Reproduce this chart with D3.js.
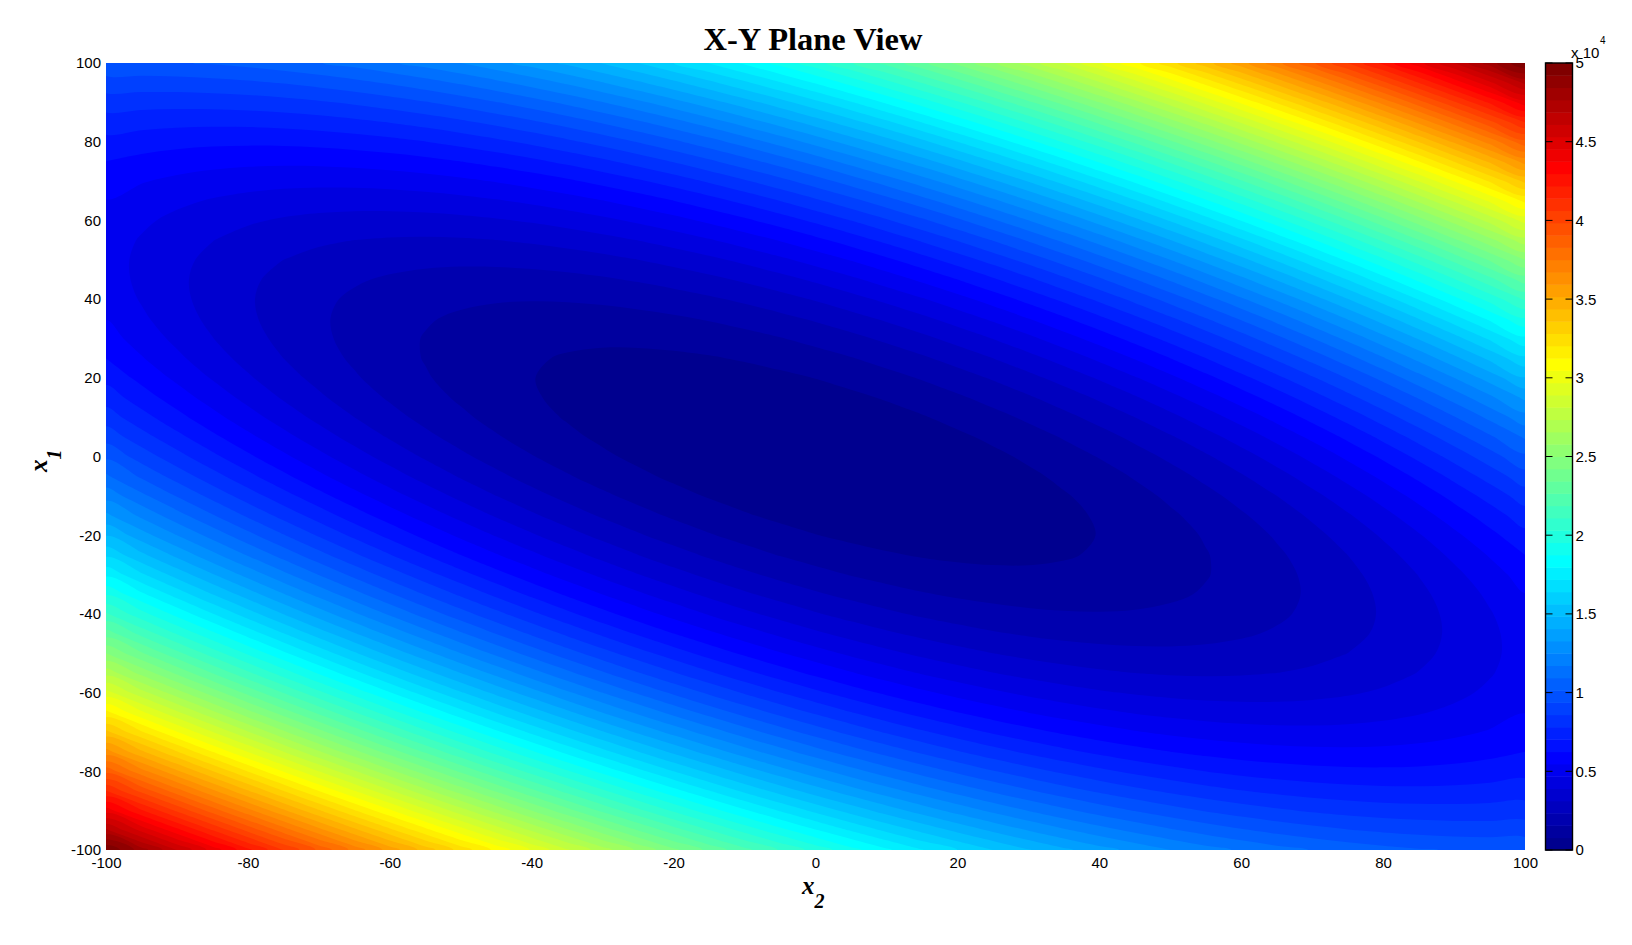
<!DOCTYPE html>
<html>
<head>
<meta charset="utf-8">
<script src="https://cdn.jsdelivr.net/npm/d3@7"></script>
<style>
	html, body { margin: 0; background: white; }
	svg { display: block; }
	.tick text, .cb_label { font-family: "Liberation Sans", Arial, sans-serif; font-size: 15px; fill: black; }
	.math { font-family: "Liberation Serif", "Times New Roman", serif; font-style: italic; font-weight: bold; fill: black; }
</style>
</head>
<body>
<div id="chart"></div>
<script>
const x2_ticks = [-100, -80, -60, -40, -20, 0, 20, 40, 60, 80, 100];
const x1_ticks = [-100, -80, -60, -40, -20, 0, 20, 40, 60, 80, 100];
const colorbar_ticks = [0, 5000, 10000, 15000, 20000, 25000, 30000, 35000, 40000, 45000, 50000];
const colorbar_labels = ["0", "0.5", "1", "1.5", "2", "2.5", "3", "3.5", "4", "4.5", "5"];
const nb_levels = 64;
const z_max = 50000;

// surface values, 5 units apart.
// first row is x1 = 100 (top), each row goes from x2 = -100 to x2 = 100
const z_rows = [
	[10000,10025,10100,10225,10400,10625,10900,11225,11600,12025,12500,13025,13600,14225,14900,15625,16400,17225,18100,19025,20000,21025,22100,23225,24400,25625,26900,28225,29600,31025,32500,34025,35600,37225,38900,40625,42400,44225,46100,48025,50000],
	[9050,9025,9050,9125,9250,9425,9650,9925,10250,10625,11050,11525,12050,12625,13250,13925,14650,15425,16250,17125,18050,19025,20050,21125,22250,23425,24650,25925,27250,28625,30050,31525,33050,34625,36250,37925,39650,41425,43250,45125,47050],
	[8200,8125,8100,8125,8200,8325,8500,8725,9000,9325,9700,10125,10600,11125,11700,12325,13000,13725,14500,15325,16200,17125,18100,19125,20200,21325,22500,23725,25000,26325,27700,29125,30600,32125,33700,35325,37000,38725,40500,42325,44200],
	[7450,7325,7250,7225,7250,7325,7450,7625,7850,8125,8450,8825,9250,9725,10250,10825,11450,12125,12850,13625,14450,15325,16250,17225,18250,19325,20450,21625,22850,24125,25450,26825,28250,29725,31250,32825,34450,36125,37850,39625,41450],
	[6800,6625,6500,6425,6400,6425,6500,6625,6800,7025,7300,7625,8000,8425,8900,9425,10000,10625,11300,12025,12800,13625,14500,15425,16400,17425,18500,19625,20800,22025,23300,24625,26000,27425,28900,30425,32000,33625,35300,37025,38800],
	[6250,6025,5850,5725,5650,5625,5650,5725,5850,6025,6250,6525,6850,7225,7650,8125,8650,9225,9850,10525,11250,12025,12850,13725,14650,15625,16650,17725,18850,20025,21250,22525,23850,25225,26650,28125,29650,31225,32850,34525,36250],
	[5800,5525,5300,5125,5000,4925,4900,4925,5000,5125,5300,5525,5800,6125,6500,6925,7400,7925,8500,9125,9800,10525,11300,12125,13000,13925,14900,15925,17000,18125,19300,20525,21800,23125,24500,25925,27400,28925,30500,32125,33800],
	[5450,5125,4850,4625,4450,4325,4250,4225,4250,4325,4450,4625,4850,5125,5450,5825,6250,6725,7250,7825,8450,9125,9850,10625,11450,12325,13250,14225,15250,16325,17450,18625,19850,21125,22450,23825,25250,26725,28250,29825,31450],
	[5200,4825,4500,4225,4000,3825,3700,3625,3600,3625,3700,3825,4000,4225,4500,4825,5200,5625,6100,6625,7200,7825,8500,9225,10000,10825,11700,12625,13600,14625,15700,16825,18000,19225,20500,21825,23200,24625,26100,27625,29200],
	[5050,4625,4250,3925,3650,3425,3250,3125,3050,3025,3050,3125,3250,3425,3650,3925,4250,4625,5050,5525,6050,6625,7250,7925,8650,9425,10250,11125,12050,13025,14050,15125,16250,17425,18650,19925,21250,22625,24050,25525,27050],
	[5000,4525,4100,3725,3400,3125,2900,2725,2600,2525,2500,2525,2600,2725,2900,3125,3400,3725,4100,4525,5000,5525,6100,6725,7400,8125,8900,9725,10600,11525,12500,13525,14600,15725,16900,18125,19400,20725,22100,23525,25000],
	[5050,4525,4050,3625,3250,2925,2650,2425,2250,2125,2050,2025,2050,2125,2250,2425,2650,2925,3250,3625,4050,4525,5050,5625,6250,6925,7650,8425,9250,10125,11050,12025,13050,14125,15250,16425,17650,18925,20250,21625,23050],
	[5200,4625,4100,3625,3200,2825,2500,2225,2000,1825,1700,1625,1600,1625,1700,1825,2000,2225,2500,2825,3200,3625,4100,4625,5200,5825,6500,7225,8000,8825,9700,10625,11600,12625,13700,14825,16000,17225,18500,19825,21200],
	[5450,4825,4250,3725,3250,2825,2450,2125,1850,1625,1450,1325,1250,1225,1250,1325,1450,1625,1850,2125,2450,2825,3250,3725,4250,4825,5450,6125,6850,7625,8450,9325,10250,11225,12250,13325,14450,15625,16850,18125,19450],
	[5800,5125,4500,3925,3400,2925,2500,2125,1800,1525,1300,1125,1000,925,900,925,1000,1125,1300,1525,1800,2125,2500,2925,3400,3925,4500,5125,5800,6525,7300,8125,9000,9925,10900,11925,13000,14125,15300,16525,17800],
	[6250,5525,4850,4225,3650,3125,2650,2225,1850,1525,1250,1025,850,725,650,625,650,725,850,1025,1250,1525,1850,2225,2650,3125,3650,4225,4850,5525,6250,7025,7850,8725,9650,10625,11650,12725,13850,15025,16250],
	[6800,6025,5300,4625,4000,3425,2900,2425,2000,1625,1300,1025,800,625,500,425,400,425,500,625,800,1025,1300,1625,2000,2425,2900,3425,4000,4625,5300,6025,6800,7625,8500,9425,10400,11425,12500,13625,14800],
	[7450,6625,5850,5125,4450,3825,3250,2725,2250,1825,1450,1125,850,625,450,325,250,225,250,325,450,625,850,1125,1450,1825,2250,2725,3250,3825,4450,5125,5850,6625,7450,8325,9250,10225,11250,12325,13450],
	[8200,7325,6500,5725,5000,4325,3700,3125,2600,2125,1700,1325,1000,725,500,325,200,125,100,125,200,325,500,725,1000,1325,1700,2125,2600,3125,3700,4325,5000,5725,6500,7325,8200,9125,10100,11125,12200],
	[9050,8125,7250,6425,5650,4925,4250,3625,3050,2525,2050,1625,1250,925,650,425,250,125,50,25,50,125,250,425,650,925,1250,1625,2050,2525,3050,3625,4250,4925,5650,6425,7250,8125,9050,10025,11050],
	[10000,9025,8100,7225,6400,5625,4900,4225,3600,3025,2500,2025,1600,1225,900,625,400,225,100,25,0,25,100,225,400,625,900,1225,1600,2025,2500,3025,3600,4225,4900,5625,6400,7225,8100,9025,10000],
	[11050,10025,9050,8125,7250,6425,5650,4925,4250,3625,3050,2525,2050,1625,1250,925,650,425,250,125,50,25,50,125,250,425,650,925,1250,1625,2050,2525,3050,3625,4250,4925,5650,6425,7250,8125,9050],
	[12200,11125,10100,9125,8200,7325,6500,5725,5000,4325,3700,3125,2600,2125,1700,1325,1000,725,500,325,200,125,100,125,200,325,500,725,1000,1325,1700,2125,2600,3125,3700,4325,5000,5725,6500,7325,8200],
	[13450,12325,11250,10225,9250,8325,7450,6625,5850,5125,4450,3825,3250,2725,2250,1825,1450,1125,850,625,450,325,250,225,250,325,450,625,850,1125,1450,1825,2250,2725,3250,3825,4450,5125,5850,6625,7450],
	[14800,13625,12500,11425,10400,9425,8500,7625,6800,6025,5300,4625,4000,3425,2900,2425,2000,1625,1300,1025,800,625,500,425,400,425,500,625,800,1025,1300,1625,2000,2425,2900,3425,4000,4625,5300,6025,6800],
	[16250,15025,13850,12725,11650,10625,9650,8725,7850,7025,6250,5525,4850,4225,3650,3125,2650,2225,1850,1525,1250,1025,850,725,650,625,650,725,850,1025,1250,1525,1850,2225,2650,3125,3650,4225,4850,5525,6250],
	[17800,16525,15300,14125,13000,11925,10900,9925,9000,8125,7300,6525,5800,5125,4500,3925,3400,2925,2500,2125,1800,1525,1300,1125,1000,925,900,925,1000,1125,1300,1525,1800,2125,2500,2925,3400,3925,4500,5125,5800],
	[19450,18125,16850,15625,14450,13325,12250,11225,10250,9325,8450,7625,6850,6125,5450,4825,4250,3725,3250,2825,2450,2125,1850,1625,1450,1325,1250,1225,1250,1325,1450,1625,1850,2125,2450,2825,3250,3725,4250,4825,5450],
	[21200,19825,18500,17225,16000,14825,13700,12625,11600,10625,9700,8825,8000,7225,6500,5825,5200,4625,4100,3625,3200,2825,2500,2225,2000,1825,1700,1625,1600,1625,1700,1825,2000,2225,2500,2825,3200,3625,4100,4625,5200],
	[23050,21625,20250,18925,17650,16425,15250,14125,13050,12025,11050,10125,9250,8425,7650,6925,6250,5625,5050,4525,4050,3625,3250,2925,2650,2425,2250,2125,2050,2025,2050,2125,2250,2425,2650,2925,3250,3625,4050,4525,5050],
	[25000,23525,22100,20725,19400,18125,16900,15725,14600,13525,12500,11525,10600,9725,8900,8125,7400,6725,6100,5525,5000,4525,4100,3725,3400,3125,2900,2725,2600,2525,2500,2525,2600,2725,2900,3125,3400,3725,4100,4525,5000],
	[27050,25525,24050,22625,21250,19925,18650,17425,16250,15125,14050,13025,12050,11125,10250,9425,8650,7925,7250,6625,6050,5525,5050,4625,4250,3925,3650,3425,3250,3125,3050,3025,3050,3125,3250,3425,3650,3925,4250,4625,5050],
	[29200,27625,26100,24625,23200,21825,20500,19225,18000,16825,15700,14625,13600,12625,11700,10825,10000,9225,8500,7825,7200,6625,6100,5625,5200,4825,4500,4225,4000,3825,3700,3625,3600,3625,3700,3825,4000,4225,4500,4825,5200],
	[31450,29825,28250,26725,25250,23825,22450,21125,19850,18625,17450,16325,15250,14225,13250,12325,11450,10625,9850,9125,8450,7825,7250,6725,6250,5825,5450,5125,4850,4625,4450,4325,4250,4225,4250,4325,4450,4625,4850,5125,5450],
	[33800,32125,30500,28925,27400,25925,24500,23125,21800,20525,19300,18125,17000,15925,14900,13925,13000,12125,11300,10525,9800,9125,8500,7925,7400,6925,6500,6125,5800,5525,5300,5125,5000,4925,4900,4925,5000,5125,5300,5525,5800],
	[36250,34525,32850,31225,29650,28125,26650,25225,23850,22525,21250,20025,18850,17725,16650,15625,14650,13725,12850,12025,11250,10525,9850,9225,8650,8125,7650,7225,6850,6525,6250,6025,5850,5725,5650,5625,5650,5725,5850,6025,6250],
	[38800,37025,35300,33625,32000,30425,28900,27425,26000,24625,23300,22025,20800,19625,18500,17425,16400,15425,14500,13625,12800,12025,11300,10625,10000,9425,8900,8425,8000,7625,7300,7025,6800,6625,6500,6425,6400,6425,6500,6625,6800],
	[41450,39625,37850,36125,34450,32825,31250,29725,28250,26825,25450,24125,22850,21625,20450,19325,18250,17225,16250,15325,14450,13625,12850,12125,11450,10825,10250,9725,9250,8825,8450,8125,7850,7625,7450,7325,7250,7225,7250,7325,7450],
	[44200,42325,40500,38725,37000,35325,33700,32125,30600,29125,27700,26325,25000,23725,22500,21325,20200,19125,18100,17125,16200,15325,14500,13725,13000,12325,11700,11125,10600,10125,9700,9325,9000,8725,8500,8325,8200,8125,8100,8125,8200],
	[47050,45125,43250,41425,39650,37925,36250,34625,33050,31525,30050,28625,27250,25925,24650,23425,22250,21125,20050,19025,18050,17125,16250,15425,14650,13925,13250,12625,12050,11525,11050,10625,10250,9925,9650,9425,9250,9125,9050,9025,9050],
	[50000,48025,46100,44225,42400,40625,38900,37225,35600,34025,32500,31025,29600,28225,26900,25625,24400,23225,22100,21025,20000,19025,18100,17225,16400,15625,14900,14225,13600,13025,12500,12025,11600,11225,10900,10625,10400,10225,10100,10025,10000]
];

function main_plane(width = 1632, height = 945){
	const margin = ({top: 63, right: 107, bottom: 95, left: 106});
	const cb = ({left: 1545.5, right: 1572.5});
	const nb_cols = z_rows[0].length, nb_rows = z_rows.length;

	// same 64 steps as matlab's jet
	const jet = d3.scaleLinear()
		.domain([0, 7, 23, 39, 55, 63])
		.range(["rgb(0,0,143)", "rgb(0,0,255)", "rgb(0,255,255)", "rgb(255,255,0)", "rgb(255,0,0)", "rgb(128,0,0)"]);

	const svg = d3.select("#chart").append("svg")
		.attr("width", width)
		.attr("height", height);

	const x = d3.scaleLinear().domain([-100, 100]).range([margin.left, width - margin.right]);
	const y = d3.scaleLinear().domain([-100, 100]).range([height - margin.bottom, margin.top]);
	const z = d3.scaleLinear().domain([0, z_max]).range([height - margin.bottom, margin.top]);

	// grid cell centers -> data values
	const col_to_x2 = d3.scaleLinear().domain([0.5, nb_cols - 0.5]).range([-100, 100]);
	const row_to_x1 = d3.scaleLinear().domain([0.5, nb_rows - 0.5]).range([100, -100]);

	// the grid is coarse, a closed curve through the contour points hides the facets
	const ring_line = d3.line()
		.x(p => x(col_to_x2(p[0])))
		.y(p => y(row_to_x1(p[1])))
		.curve(d3.curveCatmullRomClosed.alpha(0.5));
	const contour_path = c => c.coordinates
		.map(poly => poly.map(ring => ring_line(ring.slice(0, -1))).join(""))
		.join("");

	const step = z_max / nb_levels;
	const thresholds = d3.range(1, nb_levels).map(k => k * step);
	const contours = d3.contours().size([nb_cols, nb_rows]).thresholds(thresholds).smooth(true)(z_rows.flat());

	svg.append("clipPath").attr("id", "plane_clip").append("rect")
		.attr("x", x(-100)).attr("y", y(100))
		.attr("width", x(100) - x(-100)).attr("height", y(-100) - y(100));

	const plane = svg.append("g").attr("clip-path", "url(#plane_clip)");
	plane.append("rect")
		.attr("x", x(-100)).attr("y", y(100))
		.attr("width", x(100) - x(-100)).attr("height", y(-100) - y(100))
		.attr("fill", jet(0));
	plane.selectAll("path")
		.data(contours)
		.enter()
		.append("path")
		.attr("d", contour_path)
		.attr("fill", (d, i) => jet(i + 1));

	//creation of the axis
	svg.append("g")
		.attr("transform", `translate(0,${y(-100)})`)
		.call(d3.axisBottom(x).tickValues(x2_ticks).tickSize(0).tickPadding(7).tickFormat(String))
		.call(g => g.select(".domain").remove());
	svg.append("g")
		.attr("transform", `translate(${x(-100)},0)`)
		.call(d3.axisLeft(y).tickValues(x1_ticks).tickSize(0).tickPadding(5).tickFormat(String))
		.call(g => g.select(".domain").remove());

	// colorbar
	const bar = svg.append("g");
	bar.selectAll("rect")
		.data(d3.range(nb_levels))
		.enter()
		.append("rect")
		.attr("x", cb.left)
		.attr("width", cb.right - cb.left)
		.attr("y", d => z((d + 1) * step))
		.attr("height", d => z(d * step) - z((d + 1) * step) + 0.5)
		.attr("fill", d => jet(d));
	bar.selectAll("path.cb_tick")
		.data(colorbar_ticks)
		.enter()
		.append("path")
		.attr("class", "cb_tick")
		.attr("d", d => `M${cb.left},${z(d)}h7M${cb.right - 7},${z(d)}h7`)
		.attr("stroke", "black")
		.attr("stroke-width", 1);
	bar.append("rect")
		.attr("x", cb.left).attr("y", z(z_max))
		.attr("width", cb.right - cb.left).attr("height", z(0) - z(z_max))
		.attr("fill", "none").attr("stroke", "black").attr("stroke-width", 1.4);
	bar.selectAll("text.cb_label")
		.data(colorbar_ticks)
		.enter()
		.append("text")
		.attr("class", "cb_label")
		.attr("x", cb.right + 3)
		.attr("y", d => z(d))
		.attr("dy", "0.36em")
		.text((d, i) => colorbar_labels[i]);

	// x 10^4 over the colorbar
	svg.append("text").attr("class", "cb_label").attr("x", 1571).attr("y", 58).text("x 10");
	svg.append("text").attr("class", "cb_label").attr("x", 1600).attr("y", 44).style("font-size", "10px").text("4");

	// title and axis names
	svg.append("text")
		.attr("x", 813).attr("y", 50)
		.attr("text-anchor", "middle")
		.style("font-family", '"Liberation Serif", "Times New Roman", serif')
		.style("font-weight", "bold")
		.style("font-size", "32.5px")
		.text("X-Y Plane View");

	const x2_label = svg.append("text").attr("class", "math")
		.attr("transform", "translate(802,894)")
		.style("font-size", "25px");
	x2_label.append("tspan").text("x");
	x2_label.append("tspan").attr("dy", 14).style("font-size", "20px").text("2");

	const x1_label = svg.append("text").attr("class", "math")
		.attr("transform", "translate(47,472) rotate(-90)")
		.style("font-size", "25px");
	x1_label.append("tspan").text("x");
	x1_label.append("tspan").attr("dy", 14).style("font-size", "20px").text("1");

	return svg.node();
}

main_plane();
</script>
</body>
</html>
